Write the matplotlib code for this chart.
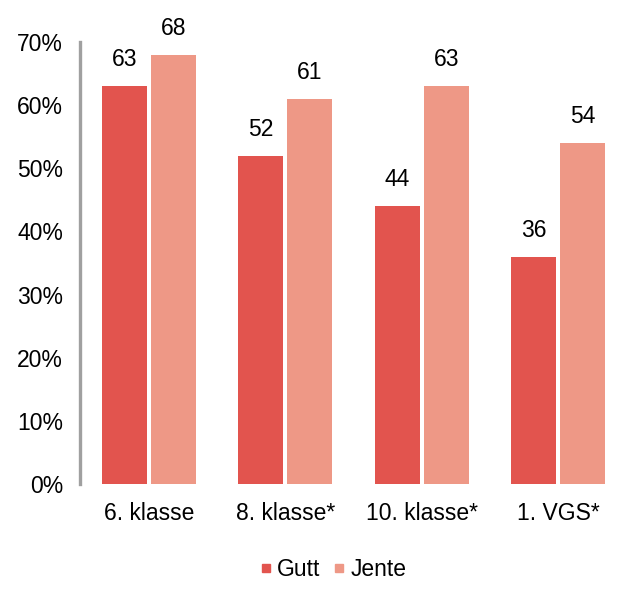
import matplotlib
matplotlib.use("Agg")
import matplotlib.pyplot as plt
import numpy as np
from matplotlib.lines import Line2D
from matplotlib.ticker import FuncFormatter

categories = ["6. klasse", "8. klasse*", "10. klasse*", "1. VGS*"]
gutt = [63, 52, 44, 36]
jente = [68, 61, 63, 54]
series_names = ["Gutt", "Jente"]
yticks = [0, 10, 20, 30, 40, 50, 60, 70]

c_gutt = "#E2544E"
c_jente = "#EE9886"

plt.rcParams['font.family'] = ['Liberation Sans', 'DejaVu Sans']

fig = plt.figure(figsize=(6.39, 5.91), dpi=100)
ax = fig.add_axes([0.125, 0.181, 0.855, 0.748])

x = np.arange(len(categories))
w = 0.33
gap = 0.03
b1 = ax.bar(x - (w + gap) / 2, gutt, width=w, color=c_gutt)
b2 = ax.bar(x + (w + gap) / 2, jente, width=w, color=c_jente)

for bars, vals in ((b1, gutt), (b2, jente)):
    for r, v in zip(bars, vals):
        ax.text(r.get_x() + r.get_width() / 2, v + 4.2, f"{v}", ha="center", va="center",
                fontsize=16.5, color="black")

ax.set_xlim(-0.505, 3.5)
ax.set_ylim(0, 70)
ax.set_yticks(yticks)
ax.yaxis.set_major_formatter(FuncFormatter(lambda v, p: f"{int(v)}%"))
ax.set_xticks(x)
ax.set_xticklabels(categories)
ax.tick_params(axis="both", length=0, labelsize=16.5, colors="black")
ax.tick_params(axis="y", pad=12)
ax.tick_params(axis="x", pad=13)
for s in ["top", "right", "bottom"]:
    ax.spines[s].set_visible(False)
ax.spines["left"].set_color("#A0A0A0")
ax.spines["left"].set_linewidth(2.4)

handles = [Line2D([], [], marker="s", linestyle="none", markersize=6, color=c_gutt),
           Line2D([], [], marker="s", linestyle="none", markersize=6, color=c_jente)]
fig.legend(handles, series_names, loc="center", bbox_to_anchor=(0.515, 0.037), ncol=2,
           frameon=False, fontsize=16.5, handletextpad=-0.1, columnspacing=0.2,
           handlelength=1.2)

fig.savefig("out.png", dpi=100)
